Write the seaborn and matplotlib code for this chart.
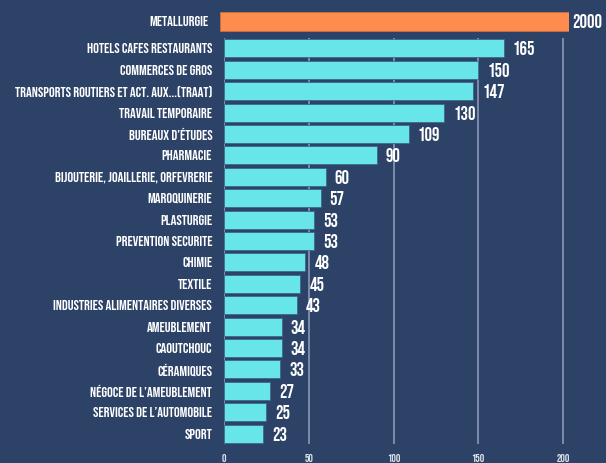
import matplotlib
matplotlib.use("Agg")
import matplotlib.pyplot as plt
import seaborn as sns
import pandas as pd

# donnees
top_label = ["METALLURGIE"]
top_value = [2000]

secteurs = [
    "HOTELS CAFES RESTAURANTS", "COMMERCES DE GROS",
    "TRANSPORTS ROUTIERS ET ACT. AUX...(TRAAT)", "TRAVAIL TEMPORAIRE",
    "BUREAUX D’ÉTUDES", "PHARMACIE", "BIJOUTERIE, JOAILLERIE, ORFEVRERIE",
    "MAROQUINERIE", "PLASTURGIE", "PREVENTION SECURITE", "CHIMIE", "TEXTILE",
    "INDUSTRIES ALIMENTAIRES DIVERSES", "AMEUBLEMENT", "CAOUTCHOUC",
    "CÉRAMIQUES", "NÉGOCE DE L’AMEUBLEMENT", "SERVICES DE L’AUTOMOBILE", "SPORT",
]
valeurs = [165, 150, 147, 130, 109, 90, 60, 57, 53, 53, 48, 45, 43, 34, 34, 33, 27, 25, 23]
ticks_x = [0, 50, 100, 150, 200]

BG = "#2c4267"
CYAN = "#68e5e9"
ORANGE = "#ff8c4f"
GRID = "#7d8cab"
FONT = ["Bebas Neue", "Barlow Condensed", "DejaVu Sans"]

sns.set_theme(style="white")
plt.rcParams["font.family"] = FONT

W, H = 606, 463
fig = plt.figure(figsize=(W / 100, H / 100), dpi=100)
fig.patch.set_facecolor(BG)

# axe principal (barres cyan)
x0, x200 = 224, 563
px_per = (x200 - x0) / 200
xmax = 215
ax = fig.add_axes([x0 / W, 1 - 444.3 / H, xmax * px_per / W, (444.3 - 37.7) / H])
df = pd.DataFrame({"secteur": secteurs, "valeur": valeurs})
sns.barplot(data=df, x="valeur", y="secteur", color=CYAN, width=0.84,
            edgecolor="#3c6a86", linewidth=0.6, saturation=1, ax=ax, zorder=3)
ax.set_facecolor(BG)
ax.set_xlim(0, xmax)
ax.set_xticks(ticks_x)
ax.set_xlabel("")
ax.set_ylabel("")
for t in ticks_x:
    ax.axvline(t, color=GRID, lw=1.4, zorder=1)
for s in ax.spines.values():
    s.set_visible(False)
ax.tick_params(axis="y", length=0, pad=8.5, labelsize=10.4, labelcolor="white")
ax.tick_params(axis="x", length=0, pad=7, labelsize=8, labelcolor="#dfe4ee")
for i, v in enumerate(valeurs):
    ax.text(v + 9 / px_per, i, str(v), va="center", ha="left", color="white",
            fontsize=13.5, zorder=4)

# axe du haut (metallurgie)
ax2 = fig.add_axes([220 / W, 1 - 32.8 / H, (569 - 220) / W, 22.6 / H])
sns.barplot(x=top_value, y=top_label, color=ORANGE, width=0.84, saturation=1,
            edgecolor="#c8703f", linewidth=0.6, ax=ax2)
ax2.set_facecolor(BG)
ax2.set_xlim(0, top_value[0])
ax2.set_xticks([])
for s in ax2.spines.values():
    s.set_visible(False)
ax2.tick_params(axis="y", length=0, pad=8.5, labelsize=10.4, labelcolor="white")
ax2.text(top_value[0] * 1.01, 0, str(top_value[0]), va="center", ha="left",
         color="white", fontsize=13.5, clip_on=False)

fig.savefig("out.png", dpi=100, facecolor=BG)
